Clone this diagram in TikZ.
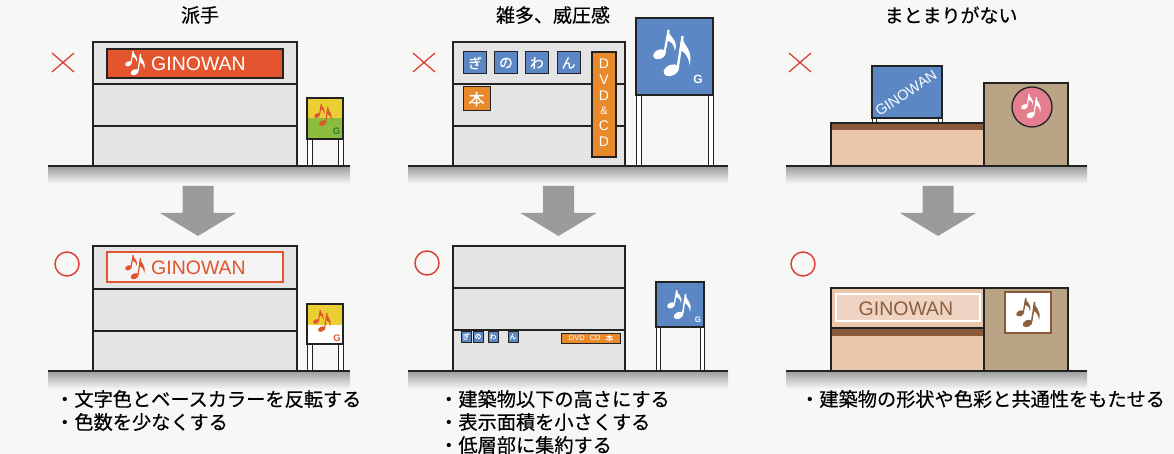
\documentclass[tikz,border=0pt]{standalone}
\usepackage{fontspec}
\setsansfont{Liberation Sans}
\newfontfamily\jpfont[FakeBold=0.4]{Noto Sans CJK JP}

\definecolor{bg}{HTML}{F7F7F5}
\definecolor{wall}{HTML}{E4E4E4}
\definecolor{outline}{HTML}{222222}
\definecolor{groundgray}{HTML}{9C9C9C}
\definecolor{arrowgray}{HTML}{9B9B9B}
\definecolor{markred}{HTML}{D8443A}
\definecolor{signred}{HTML}{E2552E}
\definecolor{signorange}{HTML}{E8892B}
\definecolor{signblue}{HTML}{5B87C4}
\definecolor{signyellow}{HTML}{E9CF33}
\definecolor{signgreen}{HTML}{8DBB3E}
\definecolor{gdark}{HTML}{2E7D32}
\definecolor{notered}{HTML}{E0552E}
\definecolor{peach}{HTML}{EAC6AA}
\definecolor{peachlight}{HTML}{EFD4C3}
\definecolor{bandbrown}{HTML}{8A5A3B}
\definecolor{tanbox}{HTML}{B9A586}
\definecolor{pinkdisc}{HTML}{E47D8E}
\definecolor{brownink}{HTML}{8A5E3E}

% ground strip: x from #1 to #2 at level #3
\newcommand\groundstrip[3]{%
  \shade[top color=groundgray, middle color=groundgray!75!bg, bottom color=bg]
    (#1,#3) rectangle (#2,#3+18);
  \draw[outline, line width=1.5pt] (#1,#3) -- (#2,#3);
}

\tikzset{
  floor/.style={fill=wall, draw=outline, line width=1.3pt},
  signframe/.style={draw=outline, line width=1.1pt},
  legbox/.style={fill=white, draw=outline, line width=1pt},
  title/.style={font=\jpfont\fontsize{19}{22}\selectfont, inner sep=0pt},
  bullet/.style={font=\jpfont\fontsize{19.2}{23}\selectfont, anchor=west, inner sep=0pt},
  latin/.style={font=\sffamily\fontsize{19.5}{22}\selectfont, inner sep=0pt},
  kanabox/.style={fill=signblue, draw=outline, line width=1pt, text=white,
    font=\jpfont\fontsize{14}{16}\selectfont, inner sep=0pt,
    minimum width=23pt, minimum height=22pt},
  minikana/.style={fill=signblue, draw=outline, line width=0.6pt, text=white,
    font=\jpfont\fontsize{7}{8}\selectfont, inner sep=0pt,
    minimum width=10pt, minimum height=11pt},
  dvdletter/.style={text=white, font=\sffamily\fontsize{14}{15}\selectfont, inner sep=0pt},
  cross/.style={markred, line width=1.3pt},
  ring/.style={markred, line width=1.5pt},
  % two slanted eighth notes in a 1 x 1.2 box, origin at the top left
  notes/.pic={
    \fill[rotate around={25:(0.17,0.64)}] (0.17,0.64) ellipse [x radius=0.17, y radius=0.12];
    \fill (0.27,0.63) -- (0.38,0.0) -- (0.44,0.0) -- (0.33,0.61) -- cycle;
    \fill (0.38,0.0) .. controls (0.45,0.2) and (0.67,0.25) .. (0.58,0.56)
          .. controls (0.56,0.38) and (0.48,0.3) .. (0.36,0.28) -- cycle;
    \fill[rotate around={25:(0.48,1.06)}] (0.48,1.06) ellipse [x radius=0.21, y radius=0.14];
    \fill (0.61,1.03) -- (0.75,0.16) -- (0.81,0.16) -- (0.68,1.0) -- cycle;
    \fill (0.75,0.16) .. controls (0.82,0.45) and (1.06,0.5) .. (0.96,0.92)
          .. controls (0.94,0.7) and (0.84,0.58) .. (0.70,0.52) -- cycle;
  },
  downarrow/.pic={
    \fill[arrowgray] (-15.5,0) -- (15.5,0) -- (15.5,27) -- (38,27) -- (0,50)
      -- (-38,27) -- (-15.5,27) -- cycle;
  },
}

\begin{document}
\begin{tikzpicture}[x=1pt,y=-1pt]
\fill[bg] (0,0) rectangle (1174,454);
\useasboundingbox (0,0) rectangle (1174,454);

% ---------------- titles ----------------
\node[title] (t1) at (200,15) {派手};
\node[title] (t2) at (553,15) {雑多、威圧感};
\node[title] (t3) at (951,15) {まとまりがない};

% ---------------- marks ----------------
\draw[cross] (52,53) -- (74,72) (74,53) -- (52,72);
\draw[cross] (413,53) -- (435,72) (435,53) -- (413,72);
\draw[cross] (789,53) -- (811,72) (811,53) -- (789,72);
\draw[ring] (67,264) circle [radius=12];
\draw[ring] (427,263) circle [radius=12];
\draw[ring] (803,264) circle [radius=12];

% ---------------- arrows ----------------
\pic at (198,186) {downarrow};
\pic at (558.5,186) {downarrow};
\pic at (938,186) {downarrow};

% ======== panel 1, before ========
\draw[floor] (93,42) rectangle (297,84);
\draw[floor] (93,84) rectangle (297,126);
\draw[floor] (93,126) rectangle (297,166);
\draw[signframe, fill=signred] (107,49) rectangle (283,78);
\pic[color=white, scale=20] at (125,51) {notes};
\node[latin, text=white, anchor=west] (ginA) at (151,64) {GINOWAN};
\draw[legbox] (307,138) rectangle (312,166);
\draw[legbox] (338,138) rectangle (343,166);
\fill[signyellow] (307,98) rectangle (343,118);
\fill[signgreen] (307,118) rectangle (343,139);
\draw[signframe] (307,98) rectangle (343,139);
\pic[color=notered, scale=18] at (314,104) {notes};
\node[font=\sffamily\bfseries\fontsize{9.5}{10}\selectfont, text=gdark, inner sep=0pt] (gA) at (336.5,131) {G};
\groundstrip{48}{350}{166}

% ======== panel 1, after ========
\draw[floor] (93,246) rectangle (297,289);
\draw[floor] (93,289) rectangle (297,331);
\draw[floor] (93,331) rectangle (297,371);
\draw[draw=signred, line width=1.6pt, fill=white!60!wall] (107,252) rectangle (283,282);
\pic[color=notered, scale=20] at (125,255) {notes};
\node[latin, text=notered, anchor=west] (ginB) at (151,268) {GINOWAN};
\draw[legbox] (307,343) rectangle (312,371);
\draw[legbox] (338,343) rectangle (343,371);
\fill[signyellow] (307,304) rectangle (343,325);
\fill[white] (307,325) rectangle (343,344);
\draw[signframe] (307,304) rectangle (343,344);
\pic[color=notered, scale=18] at (313,310) {notes};
\node[font=\sffamily\bfseries\fontsize{9.5}{10}\selectfont, text=notered, inner sep=0pt] (gB) at (337,338) {G};
\groundstrip{48}{350}{371}

\node[bullet] (b11) at (55,399) {・文字色とベースカラーを反転する};
\node[bullet] (b12) at (55,422) {・色数を少なくする};

% ======== panel 2, before ========
\draw[floor] (453,42) rectangle (625,84);
\draw[floor] (453,84) rectangle (625,126);
\draw[floor] (453,126) rectangle (625,166);
\node[kanabox] (k1) at (475,63) {ぎ};
\node[kanabox] (k2) at (506,63) {の};
\node[kanabox] (k3) at (537,63) {わ};
\node[kanabox] (k4) at (568.5,63) {ん};
\node[kanabox, fill=signorange, minimum width=27pt, minimum height=24pt,
      font=\jpfont\fontsize{16}{18}\selectfont] (hon) at (476.5,99) {本};
\draw[signframe, fill=signorange] (592,52) rectangle (616,157);
\node[dvdletter] (d1) at (604,64) {D};
\node[dvdletter] (d2) at (604,80) {V};
\node[dvdletter] (d3) at (604,96) {D};
\node[dvdletter, font=\sffamily\fontsize{11}{12}\selectfont] (d4) at (604,111) {\&};
\node[dvdletter] (d5) at (604,126) {C};
\node[dvdletter] (d6) at (604,142) {D};
\draw[legbox] (636,94) rectangle (641,166);
\draw[legbox] (708,94) rectangle (713,166);
\draw[signframe, fill=signblue] (636,18) rectangle (713,95);
\pic[color=white, scale=38] at (653,30) {notes};
\node[font=\sffamily\bfseries\fontsize{12}{13}\selectfont, text=white, inner sep=0pt] (gC) at (698,79) {G};
\groundstrip{408}{728}{166}

% ======== panel 2, after ========
\draw[floor] (453,246) rectangle (625,288);
\draw[floor] (453,288) rectangle (625,330);
\draw[floor] (453,330) rectangle (625,371);
\node[minikana] (m1) at (466,336.5) {ぎ};
\node[minikana] (m2) at (478,336.5) {の};
\node[minikana] (m3) at (493,336.5) {わ};
\node[minikana] (m4) at (513,336.5) {ん};
\draw[draw=outline, line width=0.6pt, fill=signorange] (561,333) rectangle (620,343);
\node[text=white, inner sep=0pt, font=\sffamily\fontsize{7.5}{8}\selectfont] (dvdcd) at (591,338)
  {DVD\hspace{5pt}CD\hspace{5pt}{\jpfont 本}};
\draw[legbox] (656,326) rectangle (660,371);
\draw[legbox] (700,326) rectangle (704,371);
\draw[signframe, fill=signblue] (656,282) rectangle (704,327);
\pic[color=white, scale=24] at (667,290) {notes};
\node[font=\sffamily\bfseries\fontsize{8}{9}\selectfont, text=white, inner sep=0pt] (gD) at (698,320) {G};
\groundstrip{408}{728}{371}

\node[bullet] (b21) at (439,399) {・建築物以下の高さにする};
\node[bullet] (b22) at (439,422) {・表示面積を小さくする};
\node[bullet] (b23) at (439,445) {・低層部に集約する};

% ======== panel 3, before ========
\draw[legbox] (872,116) rectangle (876,123);
\draw[legbox] (938,116) rectangle (942,123);
\draw[signframe, fill=signblue] (872,66) rectangle (942,118);
\node[font=\sffamily\fontsize{14.5}{15}\selectfont, text=white, inner sep=0pt, rotate=34] (ginC) at (906,93) {GINOWAN};
\fill[peach] (831,123) rectangle (984,166);
\fill[bandbrown] (831,123) rectangle (984,130);
\draw[outline, line width=1.3pt] (831,123) rectangle (984,166);
\draw[outline, line width=1.3pt, fill=tanbox] (984,83) rectangle (1068,166);
\draw[outline, line width=1.3pt, fill=pinkdisc] (1032,107) circle [radius=20];
\pic[color=white, scale=20] at (1021,94) {notes};
\groundstrip{786}{1087}{166}

% ======== panel 3, after ========
\fill[peach] (831,288) rectangle (984,371);
\draw[white, line width=1.2pt, fill=peachlight] (836,294) rectangle (980,321);
\node[latin, text=brownink] (ginD) at (906,309) {GINOWAN};
\fill[bandbrown] (831,328) rectangle (984,336);
\draw[outline, line width=1.1pt] (831,328) -- (984,328);
\draw[outline, line width=1.3pt] (831,288) rectangle (984,371);
\draw[outline, line width=1.3pt, fill=tanbox] (984,288) rectangle (1068,371);
\draw[draw=bandbrown, line width=1.6pt, fill=white] (1005,292) rectangle (1051,333);
\pic[color=brownink, scale=24] at (1016,298) {notes};
\groundstrip{786}{1087}{371}

\node[bullet] (b31) at (800,399) {・建築物の形状や色彩と共通性をもたせる};

\end{tikzpicture}
\end{document}
